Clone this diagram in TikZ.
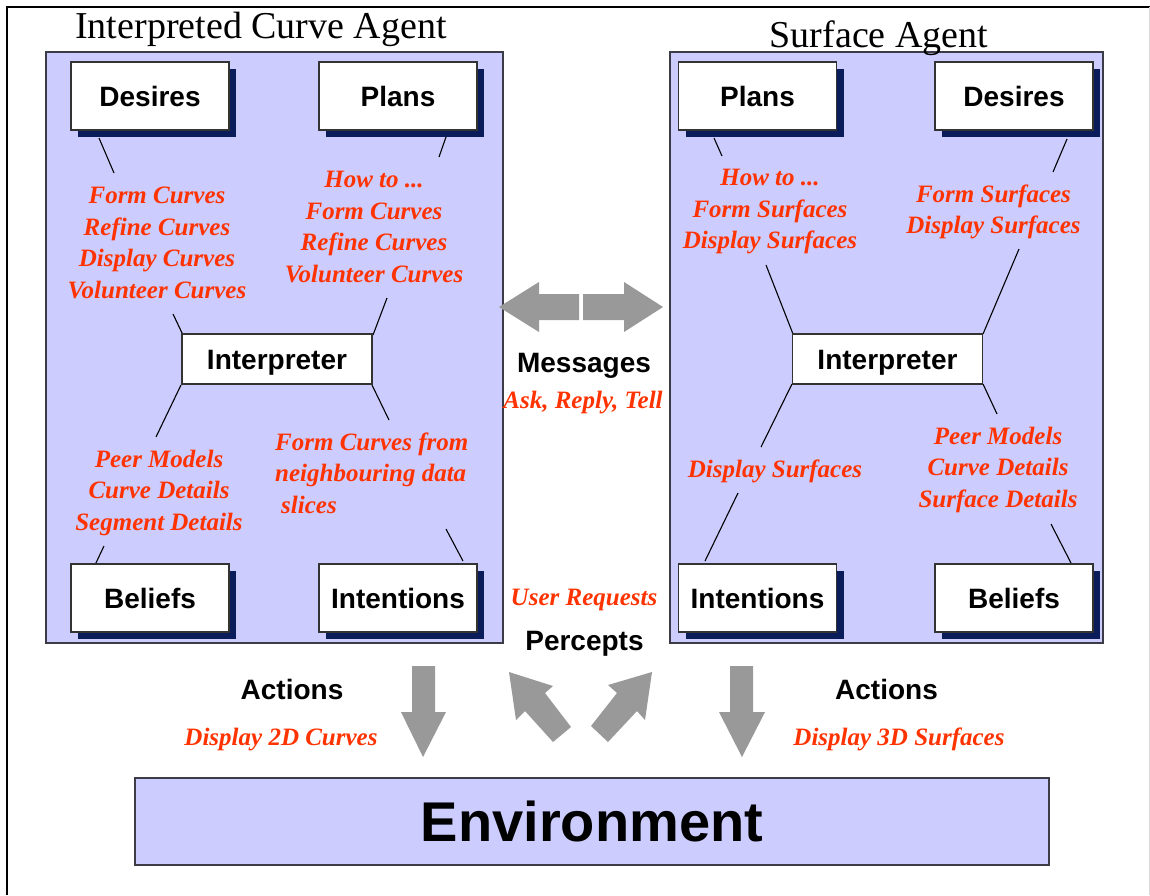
\documentclass[tikz,border=0pt]{standalone}
\usepackage{fontspec}
\setmainfont{Liberation Serif}
\setsansfont{Liberation Sans}
\usetikzlibrary{shadows}
\definecolor{agentfill}{RGB}{204,204,255}
\definecolor{shadownavy}{RGB}{10,28,90}
\definecolor{notered}{RGB}{255,51,0}
\definecolor{arrowgray}{RGB}{153,153,153}
\definecolor{edgegray}{RGB}{60,60,70}
\tikzset{
  agent/.style={draw=edgegray, line width=1.4pt, fill=agentfill, inner sep=0pt},
  partbox/.style={draw=black!80, line width=1.1pt, fill=white, inner sep=0pt,
    minimum width=158pt, minimum height=68pt, text height=20pt, text depth=0pt,
    font=\sffamily\bfseries\fontsize{28}{32}\selectfont,
    drop shadow={shadow xshift=7pt, shadow yshift=-7pt, fill=shadownavy, opacity=1}},
  interp/.style={draw=black!80, line width=1.1pt, fill=white, inner sep=0pt,
    minimum width=190pt, minimum height=50pt, text height=20pt, text depth=0pt,
    font=\sffamily\bfseries\fontsize{28}{32}\selectfont},
  envbox/.style={draw=edgegray, line width=1.4pt, fill=agentfill, inner sep=0pt,
    minimum width=914pt, minimum height=87pt, text height=40pt, text depth=0pt,
    font=\sffamily\bfseries\fontsize{56}{60}\selectfont},
  % multi-line notes are anchored at the baseline of their last line
  note/.style={text=notered, inner sep=0pt, anchor=base, align=center,
    font=\rmfamily\bfseries\itshape\fontsize{25}{31.5}\selectfont},
  blacklabel/.style={inner sep=0pt, anchor=base,
    font=\sffamily\bfseries\fontsize{28}{32}\selectfont},
  heading/.style={inner sep=0pt, anchor=base, font=\rmfamily\fontsize{38}{42}\selectfont},
  link/.style={draw=black, line width=1.1pt},
  blockarrow/.style={fill=arrowgray, draw=none}
}
\begin{document}
\begin{tikzpicture}[x=1pt,y=-1pt]
\useasboundingbox (0,0) rectangle (1150,895);
\fill[white] (0,0) rectangle (1150,895);
% page frame
\draw[black, line width=1.5pt] (7,895) -- (7,7) -- (1150,7);
\draw[black!15, line width=1pt] (1149,7) -- (1149,895);

% agent panels
\node[agent, minimum width=457pt, minimum height=591pt] (lagent) at (274.5,347.5) {};
\node[agent, minimum width=433pt, minimum height=591pt] (ragent) at (886.5,347.5) {};
\node[heading] (ltitle) at (261,38) {Interpreted Curve Agent};
\node[heading] (rtitle) at (879,47) {Surface Agent};

% ---- connector lines, left agent
\coordinate (l1a) at (99,138);  \coordinate (l1b) at (114,173);
\coordinate (l2a) at (446,137); \coordinate (l2b) at (439,157);
\coordinate (l3a) at (173,314); \coordinate (l3b) at (183,335);
\coordinate (l4a) at (387,298); \coordinate (l4b) at (373,335);
\coordinate (l5a) at (181,385); \coordinate (l5b) at (156,437);
\coordinate (l6a) at (372,385); \coordinate (l6b) at (389,420);
\coordinate (l7a) at (104,546); \coordinate (l7b) at (95,565);
\coordinate (l8a) at (446,529); \coordinate (l8b) at (463,561);
% ---- connector lines, right agent
\coordinate (r1a) at (714,138);  \coordinate (r1b) at (722,156);
\coordinate (r2a) at (1067,139); \coordinate (r2b) at (1053,172);
\coordinate (r3a) at (766,265);  \coordinate (r3b) at (793,334);
\coordinate (r4a) at (1019,249); \coordinate (r4b) at (983,334);
\coordinate (r5a) at (792,384);  \coordinate (r5b) at (761,447);
\coordinate (r6a) at (983,384);  \coordinate (r6b) at (997,414);
\coordinate (r7a) at (738,493);  \coordinate (r7b) at (705,561);
\coordinate (r8a) at (1051,524); \coordinate (r8b) at (1072,565);
\foreach \s in {l,r}{
  \foreach \i in {1,...,8}{
    \draw[link] (\s\i a) -- (\s\i b);
  }
}

% ---- left agent boxes
\node[partbox] (ldes) at (150,96) {Desires};
\node[partbox] (lpla) at (398,96) {Plans};
\node[partbox] (lbel) at (150,598) {Beliefs};
\node[partbox] (lint) at (398,598) {Intentions};
\node[interp] (linterp) at (277,359) {Interpreter};

% ---- right agent boxes
\node[partbox] (rpla) at (757.5,96) {Plans};
\node[partbox] (rdes) at (1014,96) {Desires};
\node[partbox] (rint) at (757.5,598) {Intentions};
\node[partbox] (rbel) at (1014,598) {Beliefs};
\node[interp] (rinterp) at (887.5,359) {Interpreter};

% ---- notes, left agent
\node[note] (ldesnote) at (157,298) {Form Curves\\Refine Curves\\Display Curves\\Volunteer Curves};
\node[note] (lplanote) at (374,282) {How to ...\\Form Curves\\Refine Curves\\Volunteer Curves};
\node[note] (lbelnote) at (159,530) {Peer Models\\Curve Details\\Segment Details};
\node[note, anchor=base west, align=left] (lintnote) at (275,513) {Form Curves from\\neighbouring data\\\hspace*{6pt}slices};

% ---- notes, right agent
\node[note] (rplanote) at (770,248.5) {How to ...\\Form Surfaces\\Display Surfaces};
\node[note] (rdesnote) at (993.5,233.5) {Form Surfaces\\Display Surfaces};
\node[note] (rintnote) at (775,477) {Display Surfaces};
\node[note] (rbelnote) at (998,507) {Peer Models\\Curve Details\\Surface Details};

% ---- messages between agents
\fill[blockarrow] (499,307) -- (539,282) -- (539,294) -- (579,294) -- (579,320) -- (539,320) -- (539,332) -- cycle;
\fill[blockarrow] (663,307) -- (624,282) -- (624,294) -- (583,294) -- (583,320) -- (624,320) -- (624,332) -- cycle;
\node[blacklabel] (msg) at (584,372) {Messages};
\node[note] (msgnote) at (583,408) {Ask, Reply, Tell};

% ---- percepts
\node[note] (usernote) at (584,605) {User Requests};
\node[blacklabel] (perc) at (584.5,650) {Percepts};
\fill[blockarrow] (509,672) -- (553,686) -- (545,693) -- (571,727) -- (553,742) -- (525,711) -- (516,720) -- cycle;
\fill[blockarrow] (652,672) -- (608,685) -- (617,693) -- (591,726) -- (608,742) -- (637,711) -- (645,720) -- cycle;

% ---- actions
\fill[blockarrow] (412,666) -- (435,666) -- (435,712) -- (446,712) -- (423,757) -- (401,712) -- (412,712) -- cycle;
\fill[blockarrow] (730,666) -- (753,666) -- (753,712) -- (765,712) -- (742,757) -- (719,712) -- (730,712) -- cycle;
\node[blacklabel] (lact) at (292,699) {Actions};
\node[note] (lactnote) at (281,745) {Display 2D Curves};
\node[blacklabel] (ract) at (886.5,699) {Actions};
\node[note] (ractnote) at (899,745) {Display 3D Surfaces};

% ---- environment
\node[envbox] (env) at (592,821.5) {Environment};
\end{tikzpicture}
\end{document}
